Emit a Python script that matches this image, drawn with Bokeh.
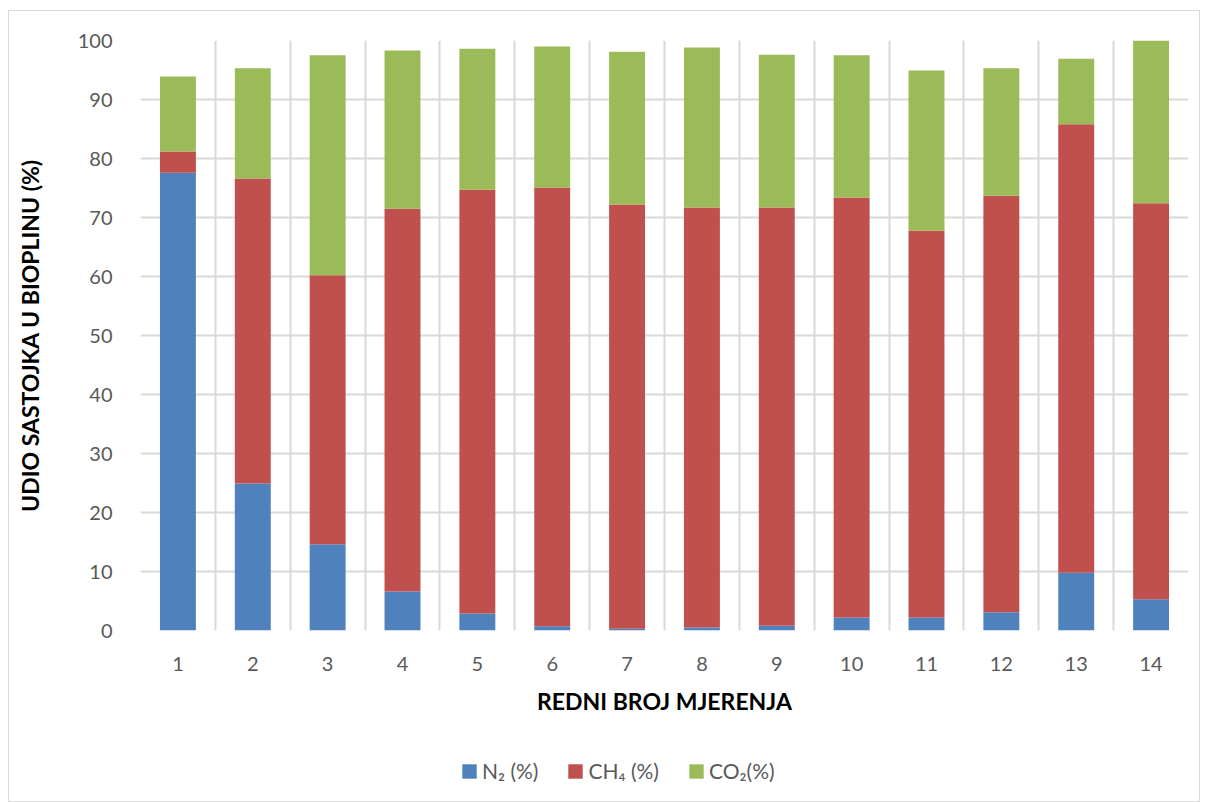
from bokeh.plotting import figure
from bokeh.layouts import column
from bokeh.models import ColumnDataSource, FixedTicker, Legend, LegendItem, Range1d
from bokeh.embed import file_html
from bokeh.resources import INLINE

measurements = [str(i) for i in range(1, 15)]
n2 = [77.6, 24.9, 14.6, 6.6, 2.9, 0.7, 0.3, 0.5, 0.8, 2.2, 2.2, 3.1, 9.8, 5.3]
ch4 = [3.6, 51.7, 45.6, 64.9, 71.8, 74.4, 71.9, 71.2, 70.9, 71.2, 65.6, 70.6, 76.0, 67.1]
co2 = [12.7, 18.7, 37.3, 26.8, 23.9, 23.9, 25.9, 27.1, 25.9, 24.1, 27.1, 21.6, 11.1, 28.0]
series_labels = ["N\u2082 (%)", "CH\u2084 (%)", "CO\u2082(%)"]
colors = ["#4F81BD", "#C0504D", "#9BBB59"]
y_ticks = list(range(0, 101, 10))

FONT = "Lato"
GRAY = "#595959"
GRID = "#D9D9D9"

x_pos = list(range(1, len(measurements) + 1))
source = ColumnDataSource(dict(x=x_pos, n2=n2, ch4=ch4, co2=co2))

p = figure(
    output_backend="svg", toolbar_location=None,
    frame_width=1048, frame_height=590,
    min_border_left=131, min_border_right=11, min_border_top=29, min_border_bottom=90,
    x_range=(0.5, len(measurements) + 0.5), y_range=(0, 100),
    background_fill_color="white", border_fill_color="white",
)
p.outline_line_color = None

renderers = p.vbar_stack(["n2", "ch4", "co2"], x="x", width=0.48, color=colors,
                         source=source, line_color=None)

# grid
p.xgrid.ticker = FixedTicker(ticks=[i + 0.5 for i in range(0, len(measurements) + 1)])
p.ygrid.ticker = FixedTicker(ticks=y_ticks)
for g in (p.xgrid, p.ygrid):
    g.grid_line_color = GRID
    g.grid_line_width = 2

# axes
p.xaxis.ticker = FixedTicker(ticks=x_pos)
p.xaxis.major_label_overrides = {i: m for i, m in zip(x_pos, measurements)}
p.yaxis.ticker = FixedTicker(ticks=y_ticks)
for ax in (p.xaxis, p.yaxis):
    ax.axis_line_color = None
    ax.major_tick_line_color = None
    ax.minor_tick_line_color = None
    ax.major_label_text_font = FONT
    ax.major_label_text_font_size = "20px"
    ax.major_label_text_color = GRAY
    ax.axis_label_text_font = FONT
    ax.axis_label_text_font_size = "23px"
    ax.axis_label_text_font_style = "bold"
    ax.axis_label_text_color = "#000000"
p.xaxis.axis_label = "REDNI BROJ MJERENJA"
p.yaxis.axis_label = "UDIO SASTOJKA U BIOPLINU (%)"
p.xaxis.major_label_standoff = 20
p.xaxis.axis_label_standoff = 13
p.yaxis.major_label_standoff = 22
p.yaxis.axis_label_standoff = 31

# legend strip below the chart (same series, kept outside its visible range)
lg = figure(
    output_backend="svg", toolbar_location=None,
    width=1190, height=81, min_border=0,
    x_range=Range1d(0.5, len(measurements) + 0.5), y_range=Range1d(200, 300),
    background_fill_color="white", border_fill_color="white",
)
lg.outline_line_color = None
lg.axis.visible = False
lg.grid.visible = False
legend_renderers = lg.vbar_stack(["n2", "ch4", "co2"], x="x", width=0.48, color=colors,
                                 source=source, line_color=None)
legend = Legend(
    items=[LegendItem(label=l, renderers=[r]) for l, r in zip(series_labels, legend_renderers)],
    orientation="horizontal", location=(320, 18),
    label_text_font=FONT, label_text_font_size="21px", label_text_color=GRAY,
    glyph_width=18, glyph_height=18, spacing=28, label_standoff=4,
    padding=10, margin=0,
    background_fill_alpha=0, border_line_color=None,
)
lg.add_layout(legend, "center")

layout = column(p, lg, spacing=0,
                styles={"border": "1px solid #D9D9D9", "margin-left": "8px", "margin-top": "10px"})

open("out.html", "w").write(file_html(layout, INLINE))
